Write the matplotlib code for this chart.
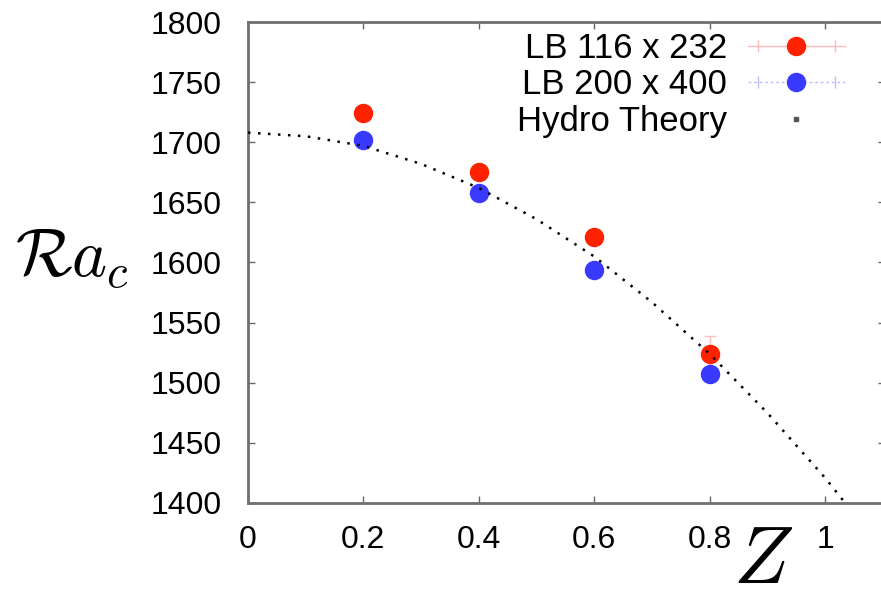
import matplotlib
matplotlib.use("Agg")
import matplotlib.pyplot as plt
from matplotlib.lines import Line2D
from matplotlib.legend_handler import HandlerLine2D

plt.rcParams['font.family'] = ['Liberation Sans', 'DejaVu Sans']
plt.rcParams['mathtext.fontset'] = 'cm'

# Data
Z = [0.2, 0.4, 0.6, 0.8]
ra_116 = [1724, 1675, 1621, 1524]
err_116 = [3, 3, 3, 15]
ra_200 = [1702, 1658, 1594, 1507]
err_200 = [3, 3, 3, 3]
Z_theory = [0.0, 0.1, 0.2, 0.3, 0.4, 0.5, 0.6, 0.7, 0.8, 0.9, 1.0, 1.1]
ra_theory = [1708, 1705, 1697, 1682, 1662, 1636, 1605, 1567, 1524, 1475, 1421, 1361]
xticks = [0, 0.2, 0.4, 0.6, 0.8, 1]
xticklabels = ['0', '0.2', '0.4', '0.6', '0.8', '1']
yticks = [1400, 1450, 1500, 1550, 1600, 1650, 1700, 1750, 1800]

red = '#ff2200'
blue = '#3a3aff'
W, H = 881, 603
fig = plt.figure(figsize=(W / 100, H / 100), dpi=100)
ax = fig.add_axes([248 / W, (H - 503) / H, (885 - 248) / W, (503 - 22) / H])

ax.plot(Z_theory, ra_theory, color='black', lw=1.8, linestyle=(0, (1, 3)), zorder=3)
ax.errorbar(Z, ra_116, yerr=err_116, fmt='o', color=red, ms=13, ecolor='#ffbcbc',
            elinewidth=1, capsize=4, zorder=2)
ax.errorbar(Z, ra_200, yerr=err_200, fmt='o', color=blue, ms=13, ecolor='#bcbcff',
            elinewidth=1, capsize=4, zorder=2)

ax.set_xlim(0, (885 - 248) / 577)
ax.set_ylim(1400, 1800)
ax.set_xticks(xticks)
ax.set_xticklabels(xticklabels)
ax.set_yticks(yticks)
ax.tick_params(direction='in', length=5, width=1, color='#666666', labelsize=23,
               top=True, right=True)
ax.tick_params(axis='y', pad=19)
ax.tick_params(axis='x', pad=16)
for s in ax.spines.values():
    s.set_color('#707070')
    s.set_linewidth(2)

# legend handles
h1 = Line2D([], [], color='#ffbcbc', lw=1, marker='o', mfc=red, mec=red, ms=13)
c1 = Line2D([], [], color='#ffbcbc', lw=0, marker='|', mec='#ffbcbc', ms=8)
h2 = Line2D([], [], color='#bcbcff', lw=1, ls=(0, (2, 2)), marker='o', mfc=blue, mec=blue, ms=13)
c2 = Line2D([], [], color='#bcbcff', lw=0, marker='|', mec='#bcbcff', ms=8)
h3 = Line2D([], [], color='#555555', lw=0, marker='s', ms=2.5)
leg = ax.legend([(h1, c1), (h2, c2), h3], ['LB 116 x 232', 'LB 200 x 400', 'Hydro Theory'],
                handler_map={c1: HandlerLine2D(numpoints=2), c2: HandlerLine2D(numpoints=2)},
                loc='upper right', bbox_to_anchor=(845 / W, (H - 32) / H),
                bbox_transform=fig.transFigure, frameon=False, markerfirst=False,
                fontsize=25, handlelength=2.8, handletextpad=0.6, labelspacing=0.1,
                borderpad=0, borderaxespad=0)

fig.text(15 / W, (H - 277) / H, r'$\mathcal{R}a_c$', fontsize=48, ha='left', va='baseline')
fig.text(733 / W, 3 / H, r'$Z$', fontsize=58, ha='left', va='bottom')

fig.savefig('out.png', dpi=100)
